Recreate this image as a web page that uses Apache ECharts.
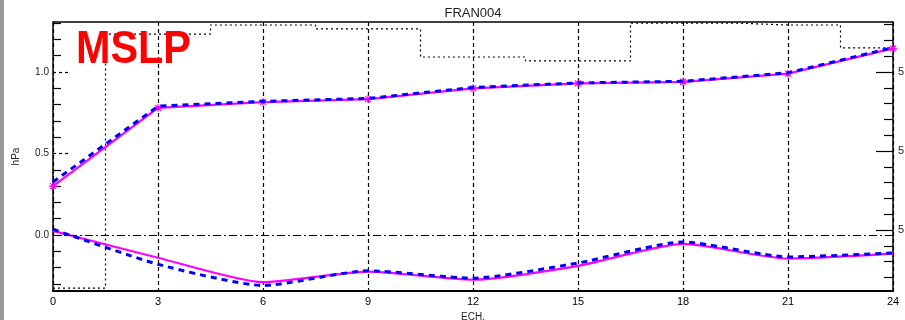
<!DOCTYPE html>
<html><head><meta charset="utf-8">
<script src="https://cdn.jsdelivr.net/npm/echarts@6/dist/echarts.min.js"></script>
<style>html,body{margin:0;padding:0;background:#fff}#c{width:905px;height:320px}</style>
</head><body><div id="c"></div>
<script>
// ---- data ----
const hours = [0, 3, 6, 9, 12, 15, 18, 21, 24];
const upperMagenta = [0.30, 0.78, 0.815, 0.834, 0.90, 0.93, 0.94, 0.99, 1.145];
const upperBlue    = [0.325, 0.79, 0.82, 0.838, 0.905, 0.933, 0.943, 0.995, 1.15];
const lowerMagenta = [0.025, -0.14, -0.29, -0.225, -0.275, -0.19, -0.055, -0.145, -0.115];
const lowerBlue    = [0.035, -0.18, -0.31, -0.22, -0.265, -0.172, -0.043, -0.135, -0.11];
const rightStep    = [4.853, 5.496, 5.519, 5.509, 5.438, 5.428, 5.524, 5.519, 5.461];
const xTicks = [0, 3, 6, 9, 12, 15, 18, 21, 24];
const leftMajor = [0, 0.5, 1.0];
const leftMinor = [-0.3, -0.2, -0.1, 0.1, 0.2, 0.3, 0.4, 0.6, 0.7, 0.8, 0.9, 1.1, 1.2, 1.3];
const rightMajor = [5.0, 5.2, 5.4];
const rightMinor = [4.88, 4.92, 4.96, 5.04, 5.08, 5.12, 5.16, 5.24, 5.28, 5.32, 5.36, 5.44, 5.48, 5.52];
const leftRange = [-0.344, 1.307];
const rightRange = [4.8456, 5.5266];

const pair = (ys) => hours.map((h, i) => [h, ys[i]]);
const FONT = 'Liberation Sans, Arial, sans-serif';
const star = 'path://M4,0L4,8M0,4L8,4M1,1L7,7M7,1L1,7';

const chart = echarts.init(document.getElementById('c'), null, {renderer: 'canvas'});
chart.setOption({
  animation: false,
  backgroundColor: '#fff',
  grid: {left: 53, right: 12, top: 22, bottom: 29, show: false, containLabel: false, outerBoundsMode: 'none'},
  graphic: [
    {type: 'rect', left: 0, top: 0, shape: {width: 4, height: 320}, style: {fill: '#9a9a9a'}, z: 100},
    {type: 'text', x: 473, y: 13, style: {text: 'FRAN004', align: 'center', verticalAlign: 'middle', font: '13px ' + FONT, fill: '#222'}, z: 100},
    {type: 'text', x: 76, y: 50, scaleX: 0.88, style: {text: 'MSLP', align: 'left', verticalAlign: 'middle', font: 'bold 47px ' + FONT, fill: '#ff0000'}, z: 100},
    {type: 'line', shape: {x1: 53, y1: 22, x2: 893, y2: 22}, style: {stroke: '#000', lineWidth: 1.5}, z: 50}
  ],
  xAxis: {
    type: 'value', min: 0, max: 24, interval: 3,
    name: 'ECH.', nameLocation: 'middle', nameGap: 21,
    nameTextStyle: {fontFamily: FONT, fontSize: 10, color: '#222'},
    axisLine: {show: true, onZero: false, lineStyle: {color: '#000', width: 2}},
    axisTick: {show: false},
    axisLabel: {fontFamily: FONT, fontSize: 11, color: '#000', margin: 5},
    splitLine: {show: true, lineStyle: {color: '#000', width: 1.2, type: [4, 3]}}
  },
  yAxis: [
    {
      type: 'value', position: 'left', min: leftRange[0], max: leftRange[1],
      name: 'hPa', nameLocation: 'middle', nameGap: 32, nameRotate: 90,
      nameTextStyle: {fontFamily: FONT, fontSize: 10, color: '#222'},
      axisLine: {show: true, onZero: false, lineStyle: {color: '#000', width: 1.5}},
      axisTick: {show: true, inside: true, length: 8, customValues: leftMinor, lineStyle: {color: '#000', width: 1.2}},
      axisLabel: {show: true, customValues: leftMajor, formatter: v => v.toFixed(1), fontFamily: FONT, fontSize: 10, color: '#222', margin: 4},
      splitLine: {show: false}
    },
    {
      type: 'value', position: 'left', min: leftRange[0], max: leftRange[1],
      axisLine: {show: false},
      axisTick: {show: true, inside: true, length: 16, customValues: leftMajor, lineStyle: {color: '#000', width: 1.2, type: [3, 3]}},
      axisLabel: {show: false},
      splitLine: {show: false}
    },
    {
      type: 'value', position: 'right', min: rightRange[0], max: rightRange[1],
      axisLine: {show: true, onZero: false, lineStyle: {color: '#000', width: 1.5}},
      axisTick: {show: true, inside: true, length: 9, customValues: rightMinor, lineStyle: {color: '#000', width: 1.2}},
      axisLabel: {show: true, customValues: rightMajor, formatter: v => v.toFixed(1), fontFamily: FONT, fontSize: 11, color: '#222', margin: 5},
      splitLine: {show: false}
    },
    {
      type: 'value', position: 'right', min: rightRange[0], max: rightRange[1],
      axisLine: {show: false},
      axisTick: {show: true, inside: true, length: 17, customValues: rightMajor, lineStyle: {color: '#000', width: 1.2}},
      axisLabel: {show: false},
      splitLine: {show: false}
    }
  ],
  series: [
    {
      type: 'line', yAxisIndex: 2, step: 'middle', data: pair(rightStep), symbol: 'none',
      lineStyle: {color: '#000', width: 1.2, type: [2, 3]}, z: 2
    },
    {
      type: 'line', yAxisIndex: 0, data: pair(upperMagenta), symbol: star, symbolSize: 8,
      itemStyle: {color: 'rgba(0,0,0,0)', borderColor: '#ff00ff', borderWidth: 1.2},
      lineStyle: {color: '#ff00ff', width: 2.2}, z: 3,
      markLine: {silent: true, symbol: 'none', label: {show: false},
        lineStyle: {color: '#000', width: 1.2, type: [8, 3, 2, 3]}, data: [{yAxis: 0}]}
    },
    {
      type: 'line', yAxisIndex: 0, data: pair(upperBlue), symbol: 'none',
      lineStyle: {color: '#0000ff', width: 3, type: [6, 5]}, z: 4
    },
    {
      type: 'line', yAxisIndex: 0, data: pair(lowerMagenta), symbol: 'none', smooth: 0.2,
      lineStyle: {color: '#ff00ff', width: 2.2}, z: 3
    },
    {
      type: 'line', yAxisIndex: 0, data: pair(lowerBlue), symbol: 'none', smooth: 0.2,
      lineStyle: {color: '#0000ff', width: 3, type: [6, 5]}, z: 4
    }
  ]
});
</script></body></html>
